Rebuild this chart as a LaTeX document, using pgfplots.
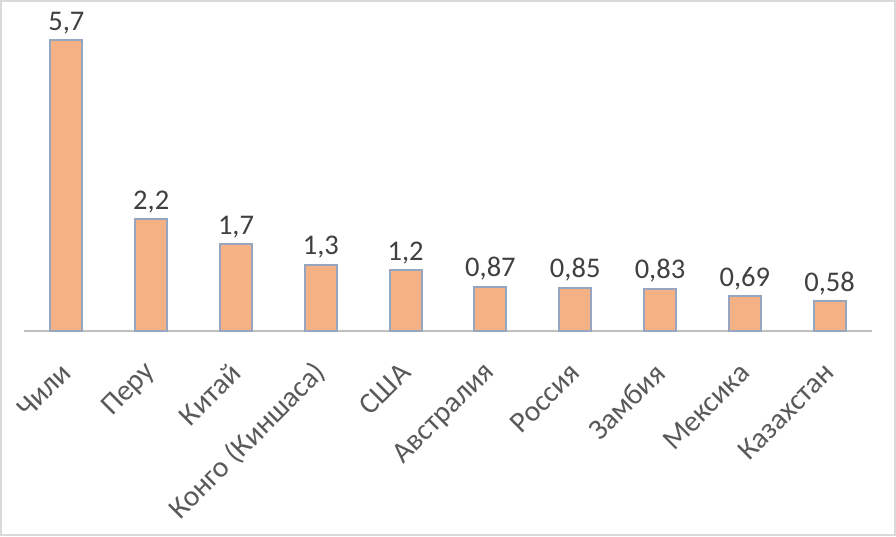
\documentclass[border=0pt]{standalone}
\usepackage{fontspec}
\setmainfont{Carlito}
\usepackage{pgfplots}
\pgfplotsset{compat=1.18}
\definecolor{barfill}{RGB}{244,177,131}
\definecolor{baredge}{RGB}{150,165,192}
\definecolor{txt}{RGB}{89,89,89}
\definecolor{dtxt}{RGB}{64,64,64}
\definecolor{axl}{RGB}{191,191,191}
\definecolor{framec}{RGB}{217,217,217}
\begin{document}
\begin{tikzpicture}[x=1pt,y=1pt]
\useasboundingbox (-24,-205) rectangle (872,331);
\fill[white] (-24,-205) rectangle (872,331);
\draw[framec, line width=2pt] (-23,-204) rectangle (871,330);
\begin{axis}[
  at={(0,0)}, anchor=south west,
  scale only axis, width=848pt, height=331pt,
  xmin=-0.5, xmax=9.5, ymin=0, ymax=6.484,
  axis y line=none, axis x line*=bottom,
  x axis line style={-, draw=axl, line width=2.5pt},
  ytick=\empty,
  xtick={0,...,9},
  xticklabels={Чили,Перу,Китай,Конго (Киншаса),США,Австралия,Россия,Замбия,Мексика,Казахстан},
  xtick style={draw=none},
  xticklabel style={font=\fontsize{29.5}{35}\selectfont, text=txt, inner sep=0pt, yshift=-37pt, xshift=0pt, rotate=45, anchor=east},
  clip=false,
]
\addplot[ybar, bar width=32pt, fill=barfill, draw=baredge, line width=2pt,
  nodes near coords, point meta=explicit symbolic,
  every node near coord/.append style={font=\fontsize{28.5}{34}\selectfont, text=dtxt, anchor=south, inner sep=0pt, yshift=5pt}]
coordinates {
(0,5.7) [5,7]
(1,2.2) [2,2]
(2,1.7) [1,7]
(3,1.3) [1,3]
(4,1.2) [1,2]
(5,0.87) [0,87]
(6,0.85) [0,85]
(7,0.83) [0,83]
(8,0.69) [0,69]
(9,0.58) [0,58]
};
\end{axis}
\end{tikzpicture}
\end{document}
